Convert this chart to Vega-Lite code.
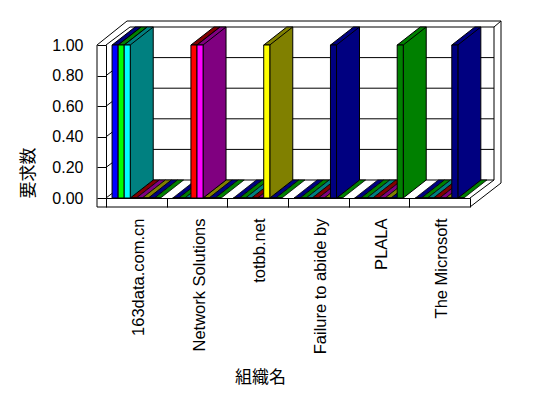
{
  "$schema": "https://vega.github.io/schema/vega-lite/v6.json",
  "width": 364,
  "height": 153,
  "autosize": {"type": "none"},
  "padding": {"left": 106, "top": 45, "right": 78, "bottom": 200},
  "background": "white",
  "config": {"view": {"stroke": null}, "font": "Liberation Sans"},
  "data": {"values": [
    {"org": "163data.com.cn", "series": "系列1", "value": 1},
    {"org": "163data.com.cn", "series": "系列2", "value": 1},
    {"org": "163data.com.cn", "series": "系列3", "value": 1},
    {"org": "163data.com.cn", "series": "系列4", "value": 0},
    {"org": "163data.com.cn", "series": "系列5", "value": 0},
    {"org": "163data.com.cn", "series": "系列6", "value": 0},
    {"org": "163data.com.cn", "series": "系列7", "value": 0},
    {"org": "163data.com.cn", "series": "系列8", "value": 0},
    {"org": "Network Solutions", "series": "系列1", "value": 0},
    {"org": "Network Solutions", "series": "系列2", "value": 0},
    {"org": "Network Solutions", "series": "系列3", "value": 0},
    {"org": "Network Solutions", "series": "系列4", "value": 1},
    {"org": "Network Solutions", "series": "系列5", "value": 1},
    {"org": "Network Solutions", "series": "系列6", "value": 0},
    {"org": "Network Solutions", "series": "系列7", "value": 0},
    {"org": "Network Solutions", "series": "系列8", "value": 0},
    {"org": "totbb.net", "series": "系列1", "value": 0},
    {"org": "totbb.net", "series": "系列2", "value": 0},
    {"org": "totbb.net", "series": "系列3", "value": 0},
    {"org": "totbb.net", "series": "系列4", "value": 0},
    {"org": "totbb.net", "series": "系列5", "value": 0},
    {"org": "totbb.net", "series": "系列6", "value": 1},
    {"org": "totbb.net", "series": "系列7", "value": 0},
    {"org": "totbb.net", "series": "系列8", "value": 0},
    {"org": "Failure to abide by", "series": "系列1", "value": 0},
    {"org": "Failure to abide by", "series": "系列2", "value": 0},
    {"org": "Failure to abide by", "series": "系列3", "value": 0},
    {"org": "Failure to abide by", "series": "系列4", "value": 0},
    {"org": "Failure to abide by", "series": "系列5", "value": 0},
    {"org": "Failure to abide by", "series": "系列6", "value": 0},
    {"org": "Failure to abide by", "series": "系列7", "value": 1},
    {"org": "Failure to abide by", "series": "系列8", "value": 0},
    {"org": "PLALA", "series": "系列1", "value": 0},
    {"org": "PLALA", "series": "系列2", "value": 0},
    {"org": "PLALA", "series": "系列3", "value": 0},
    {"org": "PLALA", "series": "系列4", "value": 0},
    {"org": "PLALA", "series": "系列5", "value": 0},
    {"org": "PLALA", "series": "系列6", "value": 0},
    {"org": "PLALA", "series": "系列7", "value": 0},
    {"org": "PLALA", "series": "系列8", "value": 1},
    {"org": "The Microsoft", "series": "系列1", "value": 0},
    {"org": "The Microsoft", "series": "系列2", "value": 0},
    {"org": "The Microsoft", "series": "系列3", "value": 0},
    {"org": "The Microsoft", "series": "系列4", "value": 0},
    {"org": "The Microsoft", "series": "系列5", "value": 0},
    {"org": "The Microsoft", "series": "系列6", "value": 0},
    {"org": "The Microsoft", "series": "系列7", "value": 1},
    {"org": "The Microsoft", "series": "系列8", "value": 0}
  ]},
  "resolve": {"scale": {"x": "independent", "y": "independent"}},
  "layer": [
    {
      "data": {"values": [{"tick": 0}, {"tick": 0.2}, {"tick": 0.4}, {"tick": 0.6}, {"tick": 0.8}, {"tick": 1}]},
      "mark": {"type": "rule", "color": "black", "strokeWidth": 1, "xOffset": 24, "x2Offset": 24, "yOffset": -18},
      "encoding": {
        "x": {"datum": 0, "type": "quantitative", "scale": {"domain": [0, 1]}, "axis": null},
        "x2": {"datum": 1},
        "y": {"field": "tick", "type": "quantitative", "scale": {"domain": [0, 1]}, "axis": null}
      }
    },
    {
      "data": {"values": [{"tick": 0}, {"tick": 0.2}, {"tick": 0.4}, {"tick": 0.6}, {"tick": 0.8}, {"tick": 1}]},
      "mark": {"type": "rule", "color": "black", "strokeWidth": 1, "x2Offset": 24, "y2Offset": -18},
      "encoding": {
        "x": {"datum": 0, "type": "quantitative", "scale": {"domain": [0, 1]}, "axis": null},
        "x2": {"datum": 0},
        "y": {"field": "tick", "type": "quantitative", "scale": {"domain": [0, 1]}, "axis": null},
        "y2": {"field": "tick"}
      }
    },
    {
      "data": {"values": [{}]},
      "mark": {"type": "rule", "color": "black", "strokeWidth": 1, "xOffset": -9, "y2Offset": 9},
      "encoding": {
        "x": {"datum": 0, "type": "quantitative", "scale": {"domain": [0, 1]}, "axis": null},
        "y": {"datum": 1, "type": "quantitative", "scale": {"domain": [0, 1]}, "axis": null},
        "y2": {"datum": 0}
      }
    },
    {
      "data": {"values": [{}]},
      "mark": {"type": "rule", "color": "black", "strokeWidth": 1, "xOffset": -9, "yOffset": 9},
      "encoding": {
        "x": {"datum": 0, "type": "quantitative", "scale": {"domain": [0, 1]}, "axis": null},
        "x2": {"datum": 1},
        "y": {"datum": 0, "type": "quantitative", "scale": {"domain": [0, 1]}, "axis": null}
      }
    },
    {
      "data": {"values": [{}]},
      "mark": {"type": "rule", "color": "black", "strokeWidth": 1, "xOffset": -9, "x2Offset": 21, "y2Offset": -24},
      "encoding": {
        "x": {"datum": 0, "type": "quantitative", "scale": {"domain": [0, 1]}, "axis": null},
        "x2": {"datum": 0},
        "y": {"datum": 1, "type": "quantitative", "scale": {"domain": [0, 1]}, "axis": null},
        "y2": {"datum": 1}
      }
    },
    {
      "data": {"values": [{}]},
      "mark": {"type": "rule", "color": "black", "strokeWidth": 1, "xOffset": 21, "x2Offset": 31, "yOffset": -24},
      "encoding": {
        "x": {"datum": 0, "type": "quantitative", "scale": {"domain": [0, 1]}, "axis": null},
        "x2": {"datum": 1},
        "y": {"datum": 1, "type": "quantitative", "scale": {"domain": [0, 1]}, "axis": null}
      }
    },
    {
      "data": {"values": [{}]},
      "mark": {"type": "rule", "color": "black", "strokeWidth": 1, "xOffset": 24, "yOffset": -18, "y2Offset": -18},
      "encoding": {
        "x": {"datum": 1, "type": "quantitative", "scale": {"domain": [0, 1]}, "axis": null},
        "y": {"datum": 1, "type": "quantitative", "scale": {"domain": [0, 1]}, "axis": null},
        "y2": {"datum": 0}
      }
    },
    {
      "data": {"values": [{}]},
      "mark": {"type": "rule", "color": "black", "strokeWidth": 1, "xOffset": 31, "yOffset": -24, "y2Offset": -15},
      "encoding": {
        "x": {"datum": 1, "type": "quantitative", "scale": {"domain": [0, 1]}, "axis": null},
        "y": {"datum": 1, "type": "quantitative", "scale": {"domain": [0, 1]}, "axis": null},
        "y2": {"datum": 0}
      }
    },
    {
      "data": {"values": [{}]},
      "mark": {"type": "rule", "color": "black", "strokeWidth": 1, "xOffset": 24, "x2Offset": 31, "yOffset": -18, "y2Offset": -24},
      "encoding": {
        "x": {"datum": 1, "type": "quantitative", "scale": {"domain": [0, 1]}, "axis": null},
        "x2": {"datum": 1},
        "y": {"datum": 1, "type": "quantitative", "scale": {"domain": [0, 1]}, "axis": null},
        "y2": {"datum": 1}
      }
    },
    {
      "data": {"values": [{}]},
      "mark": {"type": "rule", "color": "black", "strokeWidth": 1, "x2Offset": 24, "y2Offset": -18},
      "encoding": {
        "x": {"datum": 1, "type": "quantitative", "scale": {"domain": [0, 1]}, "axis": null},
        "x2": {"datum": 1},
        "y": {"datum": 0, "type": "quantitative", "scale": {"domain": [0, 1]}, "axis": null},
        "y2": {"datum": 0}
      }
    },
    {
      "data": {"values": [{}]},
      "mark": {"type": "rule", "color": "black", "strokeWidth": 1, "x2Offset": 31, "yOffset": 9, "y2Offset": -15},
      "encoding": {
        "x": {"datum": 1, "type": "quantitative", "scale": {"domain": [0, 1]}, "axis": null},
        "x2": {"datum": 1},
        "y": {"datum": 0, "type": "quantitative", "scale": {"domain": [0, 1]}, "axis": null},
        "y2": {"datum": 0}
      }
    },
    {
      "transform": [{"filter": "datum.value == 0"}],
      "mark": {"type": "point", "shape": "M -3 0 L 3 0 L 26 -18 L 20 -18 Z", "size": 4, "filled": true, "opacity": 1, "stroke": "black", "strokeWidth": 0.8},
      "encoding": {
        "x": {"field": "org", "type": "nominal", "scale": {"type": "band", "domain": ["163data.com.cn", "Network Solutions", "totbb.net", "Failure to abide by", "PLALA", "The Microsoft"], "paddingInner": 0, "paddingOuter": 0}, "axis": null},
        "xOffset": {"field": "series", "type": "nominal", "scale": {"type": "band", "paddingInner": 0, "paddingOuter": 1.05}},
        "y": {"field": "value", "type": "quantitative", "scale": {"domain": [0, 1]}, "axis": null},
        "fill": {"field": "series", "type": "nominal", "scale": {"domain": ["系列1", "系列2", "系列3", "系列4", "系列5", "系列6", "系列7", "系列8"], "range": ["#000080", "#008000", "#008080", "#800000", "#800080", "#808000", "#000080", "#008000"]}, "legend": null}
      }
    },
    {
      "transform": [{"filter": "datum.value == 1"}],
      "mark": {"type": "point", "shape": "M -3 0 L 3 0 L 3 153 L 26 135 L 26 -18 L 20 -18 Z M 3 0 L 26 -18", "size": 4, "filled": true, "opacity": 1, "stroke": "black", "strokeWidth": 1},
      "encoding": {
        "x": {"field": "org", "type": "nominal", "scale": {"type": "band", "domain": ["163data.com.cn", "Network Solutions", "totbb.net", "Failure to abide by", "PLALA", "The Microsoft"], "paddingInner": 0, "paddingOuter": 0}, "axis": null},
        "xOffset": {"field": "series", "type": "nominal", "scale": {"type": "band", "paddingInner": 0, "paddingOuter": 1.05}},
        "y": {"field": "value", "type": "quantitative", "scale": {"domain": [0, 1]}, "axis": null},
        "fill": {"field": "series", "type": "nominal", "scale": {"domain": ["系列1", "系列2", "系列3", "系列4", "系列5", "系列6", "系列7", "系列8"], "range": ["#000080", "#008000", "#008080", "#800000", "#800080", "#808000", "#000080", "#008000"]}, "legend": null}
      }
    },
    {
      "mark": {"type": "bar", "stroke": "black", "strokeWidth": 1},
      "encoding": {
        "x": {"field": "org", "type": "nominal", "scale": {"type": "band", "domain": ["163data.com.cn", "Network Solutions", "totbb.net", "Failure to abide by", "PLALA", "The Microsoft"], "paddingInner": 0, "paddingOuter": 0},
          "axis": {"title": "組織名", "tickBand": "extent", "tickSize": 9, "tickColor": "black", "domainColor": "black", "labelAngle": -90, "labelPadding": 11, "labelOffset": 2, "labelFont": "Liberation Sans", "labelFontSize": 16.5, "labelColor": "black", "labelLimit": 0, "titleFont": "Noto Sans CJK JP", "titleFontSize": 17, "titleFontWeight": "normal", "titleColor": "black", "titlePadding": 16, "titleX": 154, "grid": false}},
        "xOffset": {"field": "series", "type": "nominal", "scale": {"type": "band", "paddingInner": 0, "paddingOuter": 1.05}},
        "y": {"field": "value", "type": "quantitative", "stack": null, "scale": {"domain": [0, 1]},
          "axis": {"title": "要求数", "values": [0, 0.2, 0.4, 0.6, 0.8, 1], "format": ".2f", "tickSize": 9, "tickColor": "black", "domainColor": "black", "labelPadding": 14, "labelFont": "Liberation Sans", "labelFontSize": 16, "labelColor": "black", "titleFont": "Noto Sans CJK JP", "titleFontSize": 17, "titleFontWeight": "normal", "titleColor": "black", "titleAnchor": "start", "titlePadding": 14, "grid": false}},
        "color": {"field": "series", "type": "nominal", "scale": {"domain": ["系列1", "系列2", "系列3", "系列4", "系列5", "系列6", "系列7", "系列8"], "range": ["#0000FF", "#00FF00", "#00FFFF", "#FF0000", "#FF00FF", "#FFFF00", "#000080", "#008000"]}, "legend": null}
      }
    }
  ]
}
